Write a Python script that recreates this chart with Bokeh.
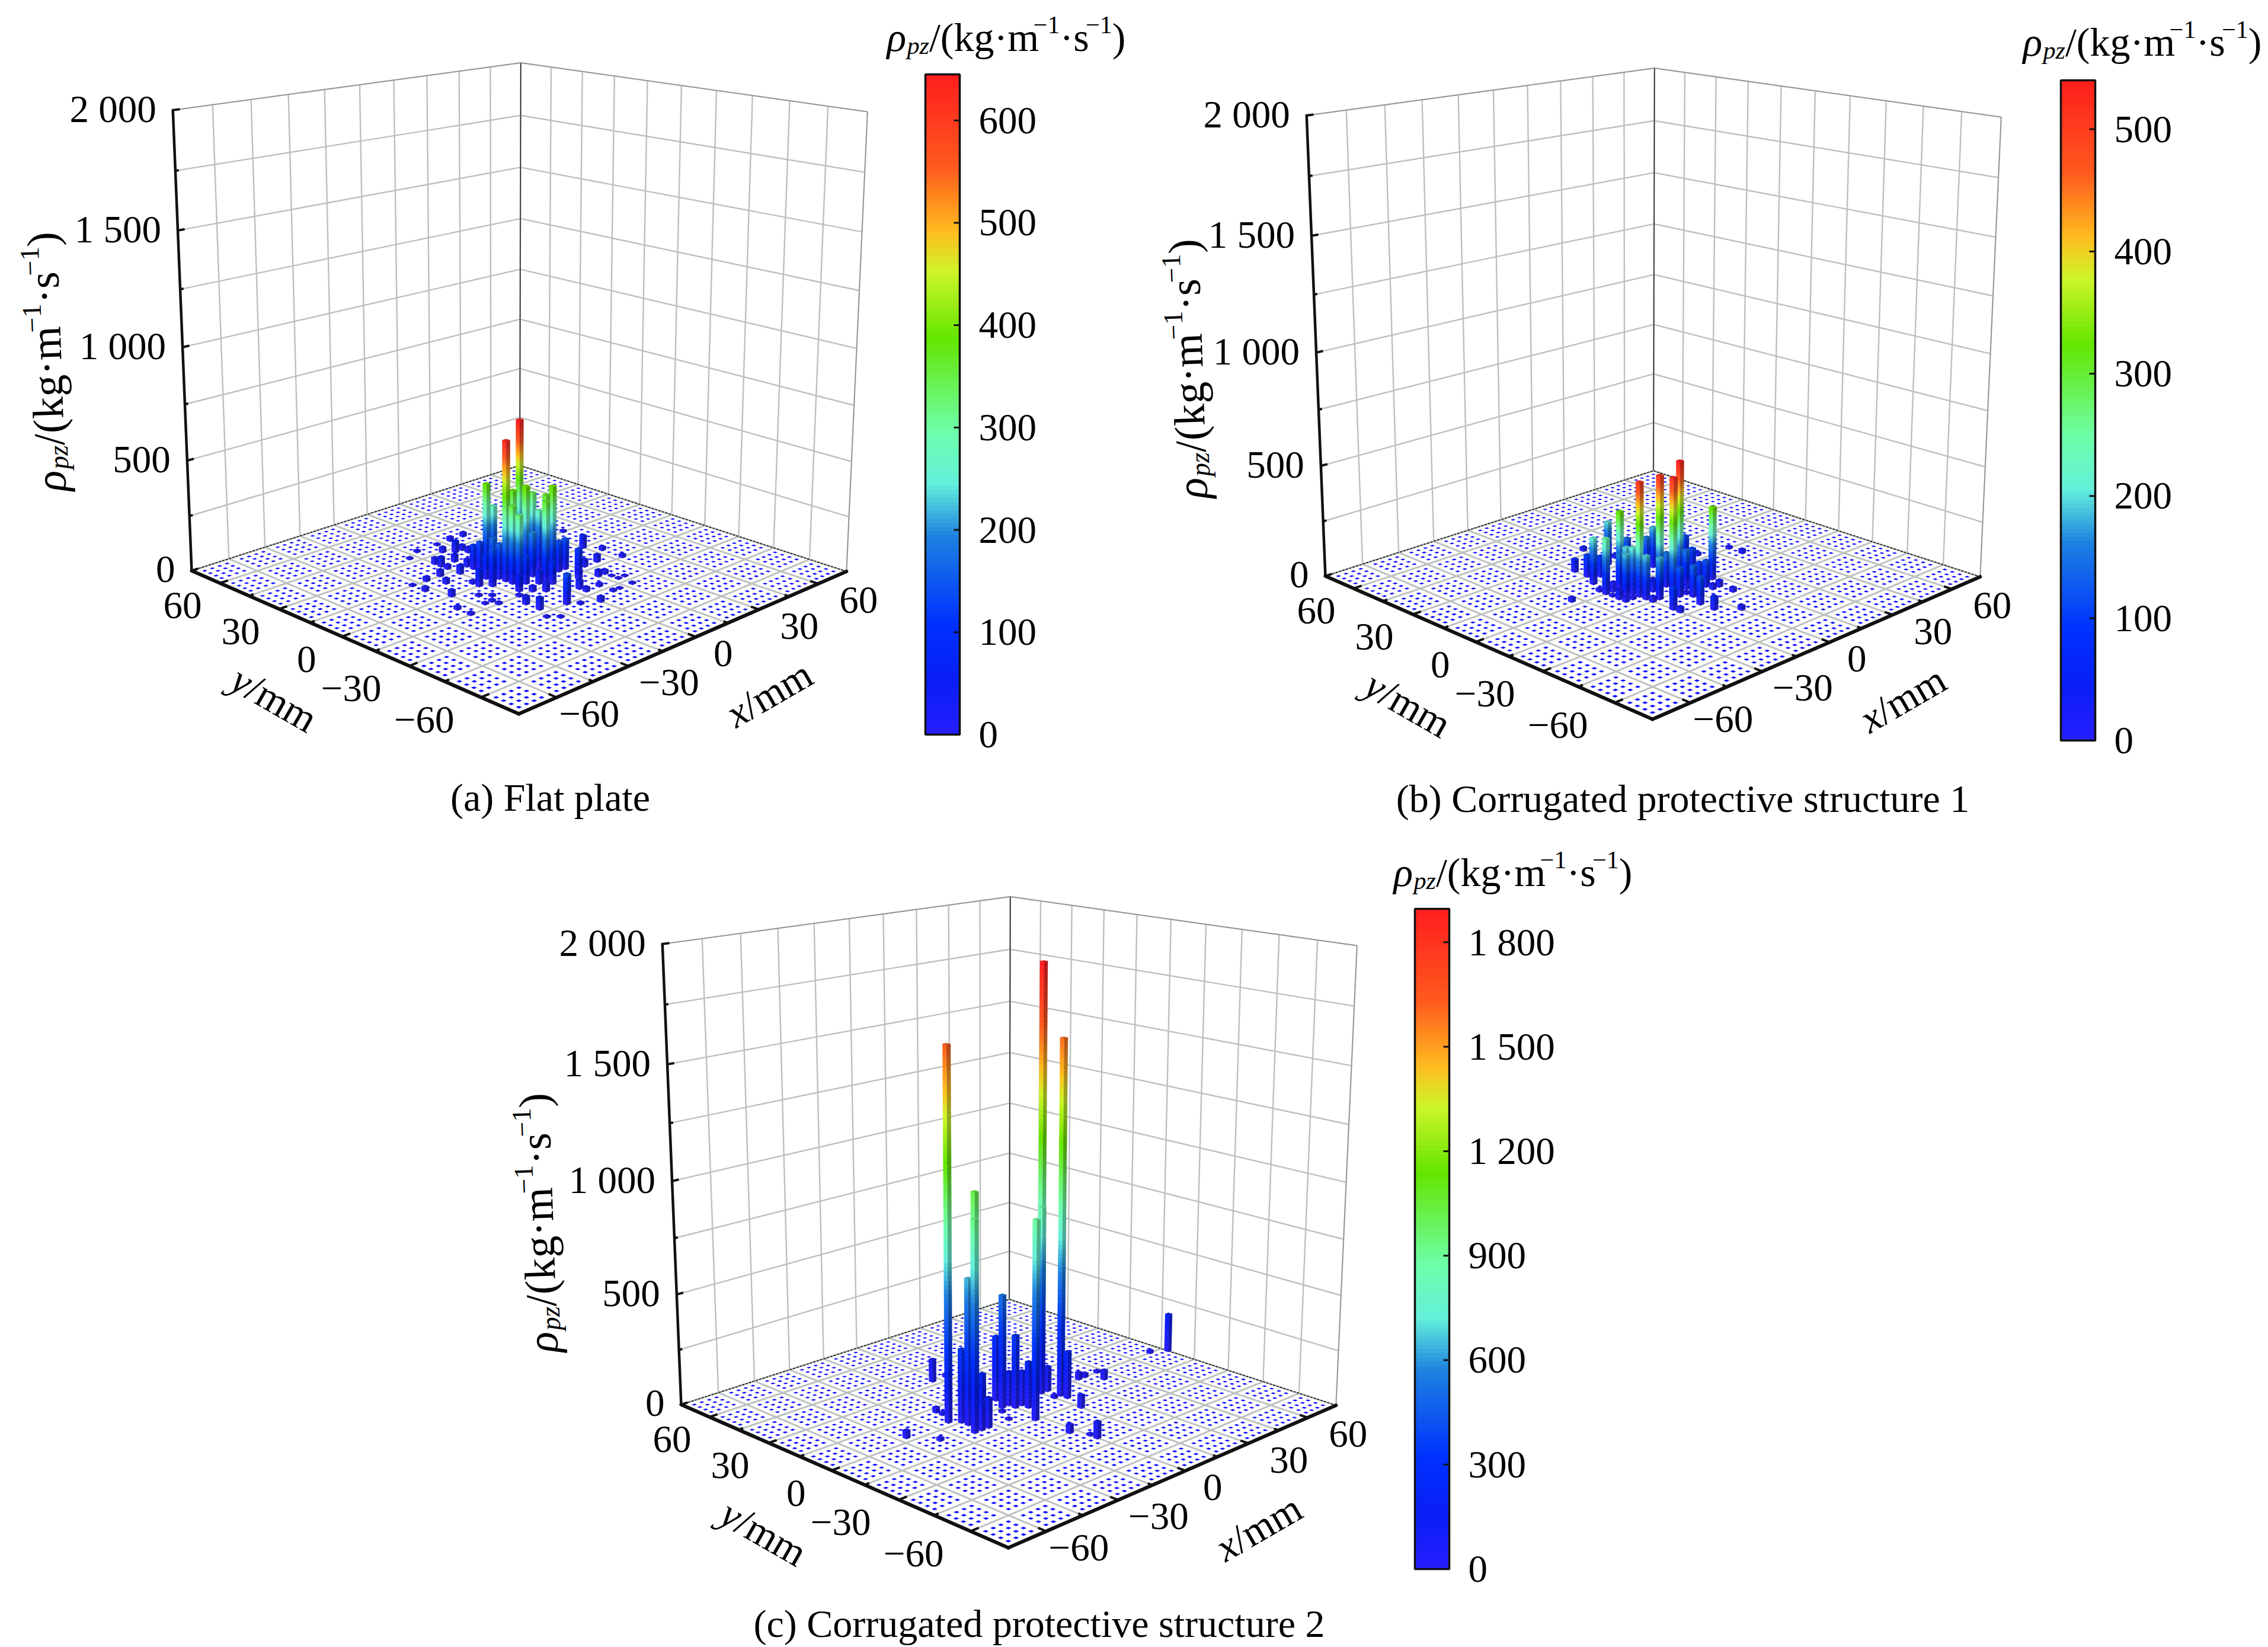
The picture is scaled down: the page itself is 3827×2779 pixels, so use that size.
import numpy as np
from bokeh.plotting import figure
from bokeh.models import ColumnDataSource, Range1d
from bokeh.embed import file_html
from bokeh.resources import INLINE
from bokeh.core.properties import value

# ---------- data ----------
a_x = [6,-9,-6,-3,-3,-9,-9,0,6,6,3,0,6,-9,-9,-18,-9,-9,-12,-15,-12,-6,-12,0,-3,-6,0,9,12,-9,12,30,3,9,18,24,15,18,33,33,0,3,-18,-9,-18,
       -3,-9,-6,3,9,-15,-15,-21,-15,-9,0,0,-15,-24,-27,-33,-30,-18,-36,-36,-21,-24,-24,-27,-24,-33,-12,-18,-3,-15,-15,36,-6,-21,-18,9,18,9,12,18,18,21]
a_y = [6,-3,9,9,0,-6,-9,-3,0,-3,-9,-12,-9,9,12,0,0,3,0,-3,3,-9,-12,-6,-12,-18,-15,-9,-9,-30,-15,0,-24,-18,-12,-12,-21,-21,-6,-15,-36,-27,-27,-15,-21,
       27,21,30,36,36,21,24,15,12,15,24,27,18,9,15,9,0,3,-9,-15,-9,-12,-15,-12,-6,15,36,33,36,-15,-18,15,-33,-33,-36,-33,-33,-27,-33,-24,-27,-27]
a_v = [650,630,390,280,380,350,320,400,340,270,370,360,400,135,110,75,160,175,150,45,110,125,70,200,60,40,100,140,140,135,115,60,40,40,35,35,30,20,18,15,25,20,55,25,25,
       55,35,25,20,20,45,30,30,40,35,25,25,20,25,20,20,30,15,15,12,10,10,10,8,10,8,10,8,8,10,15,10,10,8,8,10,8,15,6,6,6,6]

b_x = [3,-6,-6,-15,12,-12,-3,-21,-18,-15,-15,-12,0,-15,-18,-15,-15,-15,6,3,-12,-3,-15,-6,18,3,12,-3,6,6,6,-6,-6,24,9,6,9,0,36,36,-15,-21,-18,-21,-15,-9,-33,-21,0,3,-15,-18,-21,0,-3,-3]
b_y = [-9,-15,-9,-9,-15,3,18,0,9,15,21,12,12,-3,-6,0,-6,-12,6,6,-15,-9,-24,-18,3,-12,-6,-21,-9,-15,-18,-27,-33,3,-21,-21,-27,-39,-6,0,-27,-9,-9,-6,-15,-9,3,3,33,21,3,0,-3,-15,-18,-3]
b_v = [545,520,510,510,330,330,200,250,210,100,60,95,135,200,190,160,210,195,185,150,185,155,100,130,115,155,110,140,75,100,120,125,60,15,30,25,20,20,20,12,25,20,15,40,25,50,20,15,18,15,20,20,10,20,12,15]

c_x = [18,18,-24,-24,-21,-21,-3,15,-3,0,0,-21,-18,-3,-15,-21,-18,0,3,3,18,18,15,33,36,42,39,-3,0,0,69,75,-42,-21,-21,3,-36,15,-6,-9]
c_y = [3,-6,3,-9,-6,-3,-15,0,0,6,-3,0,-6,33,-3,-9,-9,0,-3,-6,0,-9,-18,0,0,0,-6,-30,-39,-36,0,-3,3,9,12,33,-6,-6,-3,-9]
c_v = [1900,1593,1630,930,1030,650,887,850,510,295,330,330,180,105,210,130,135,155,158,210,115,215,60,35,20,12,45,40,75,10,15,180,35,15,25,15,15,15,12,10]

z_ticks = [0, 500, 1000, 1500, 2000]
z_tick_labels = ["0", "500", "1 000", "1 500", "2 000"]
xy_ticks = [-60, -30, 0, 30, 60]
xy_tick_labels = ["\u221260", "\u221230", "0", "30", "60"]
cb_a_ticks = [0, 100, 200, 300, 400, 500, 600]
cb_a_labels = ["0", "100", "200", "300", "400", "500", "600"]
cb_b_ticks = [0, 100, 200, 300, 400, 500]
cb_b_labels = ["0", "100", "200", "300", "400", "500"]
cb_c_ticks = [0, 300, 600, 900, 1200, 1500, 1800]
cb_c_labels = ["0", "300", "600", "900", "1 200", "1 500", "1 800"]
captions = ["(a) Flat plate", "(b) Corrugated protective structure 1", "(c) Corrugated protective structure 2"]
cb_max = [645, 540, 1896]

# ---------- layout / style ----------
W, H = 3827, 2779
AX = 75.0
ZMAX = 2000.0
BAR_HALF = 0.85
DOT_HALF = 0.6
GREY = "#bcc1bf"
FONT = "Liberation Serif"
FS = 65
ANCHORS = [(-AX, AX, 0, 323, 962), (AX, AX, 0, 877, 786), (AX, -AX, 0, 1428, 962), (-AX, -AX, 0, 874, 1205),
           (-AX, AX, ZMAX, 292, 185), (AX, AX, ZMAX, 877, 105), (AX, -AX, ZMAX, 1464, 189)]
PANELS = [dict(dx=0, dy=0, cbx=1561, cby=(125, 1239), title=(1496, 62), ztitle=(78, 610), cap=(928, 1345)),
          dict(dx=1913, dy=9, cbx=3477, cby=(135, 1249), title=(3413, 70), ztitle=(2004, 622), cap=(2839, 1347)),
          dict(dx=826, dy=1407, cbx=2387, cby=(1533, 2647), title=(2351, 1471), ztitle=(908, 2063), cap=(1753, 2739))]
Y_LABEL_DX = [-26, -28, 10, 5, 7]
X_LABEL_DX = [-13, 0, -22, 0, 0]

STOPS = np.array([0, .08, .17, .30, .38, .46, .60, .70, .76, .86, 1.0])
RGB = np.array([(40, 30, 255), (10, 30, 245), (0, 50, 255), (30, 130, 225), (100, 240, 220), (110, 255, 170),
                (100, 230, 0), (205, 245, 40), (255, 190, 30), (255, 90, 30), (255, 30, 30)], float)


def cmap(t, k=1.0):
    c = np.array([np.interp(t, STOPS, RGB[:, i]) for i in range(3)]) * k
    c = np.clip(c, 0, 255).astype(int)
    return "#%02x%02x%02x" % tuple(c)


def fit_projection(dx, dy):
    A, b = [], []
    for x, y, z, X, Y in ANCHORS:
        X, Y = X + dx, Y + dy
        A.append([x, y, z, 1, 0, 0, 0, 0, -X * x, -X * y, -X * z]); b.append(X)
        A.append([0, 0, 0, 0, x, y, z, 1, -Y * x, -Y * y, -Y * z]); b.append(Y)
    A = np.array(A, float); b = np.array(b, float)
    s = np.abs(A).max(axis=0)
    sol = np.linalg.lstsq(A / s, b, rcond=None)[0] / s
    return np.append(sol, 1.0).reshape(3, 4)


def project(P, x, y, z):
    pts = np.column_stack([x, y, z, np.ones(len(x))])
    q = pts @ P.T
    return q[:, 0] / q[:, 2], q[:, 1] / q[:, 2]


def P1(P, x, y, z):
    X, Y = project(P, [x], [y], [z])
    return float(X[0]), float(Y[0])


CW = {'(': .333, ')': .333, '/': .278, 'k': .5, 'g': .5, '\u00b7': .25, 'm': .722, 's': .389, '\u2212': .564, '1': .5,
      '\u03c1': .5, 'p': .5, 'z': .389, 'y': .444, 'x': .444}


def tw(s, fs):
    return sum(CW.get(ch, .5) for ch in s) * fs


p = figure(width=W, height=H, output_backend="svg", toolbar_location=None,
           x_range=Range1d(0, W), y_range=Range1d(H, 0), min_border=0)
p.axis.visible = False
p.grid.visible = False
p.outline_line_color = None
p.background_fill_color = "white"


def put_text(X, Y, s, fs, angle=0.0, align="left", baseline="alphabetic", style="normal", color="#000000"):
    p.text([X], [Y], text=[s], text_font=value(FONT), text_font_size="%.1fpx" % fs, angle=angle, text_align=align,
           text_baseline=baseline, text_font_style=style, text_color=color)


def rich(cx, cy, pieces, fs, angle=0.0):
    total = sum(tw(t, fs * (.62 if k != "n" else 1)) for t, st, k in pieces)
    ca, sa = np.cos(angle), np.sin(angle)
    X = cx - ca * total / 2
    Y = cy + sa * total / 2
    for t, st, k in pieces:
        f = fs * (.62 if k != "n" else 1)
        off = {"n": 0, "b": -.2 * fs, "p": .3 * fs}[k]
        px, py = X - sa * off, Y - ca * off
        put_text(px, py, t, f, angle=angle, style=st)
        w = tw(t, f)
        X += ca * w
        Y -= sa * w


RHO = [("\u03c1", "italic", "n"), ("pz", "italic", "b"), ("/(kg\u00b7m", "normal", "n"), ("\u22121", "normal", "p"),
       ("\u00b7s", "normal", "n"), ("\u22121", "normal", "p"), (")", "normal", "n")]

datasets = [(a_x, a_y, a_v, cb_a_ticks, cb_a_labels), (b_x, b_y, b_v, cb_b_ticks, cb_b_labels),
            (c_x, c_y, c_v, cb_c_ticks, cb_c_labels)]

for idx, (panel, ds) in enumerate(zip(PANELS, datasets)):
    bx, by, bv, cticks, clabels = ds
    vmax = cb_max[idx]
    P = fit_projection(panel["dx"], panel["dy"])

    # walls
    xs, ys = [], []
    grid = np.arange(-AX, AX + 1, 15.0)
    for g in grid:
        for a, c in (((g, AX, 0), (g, AX, ZMAX)), ((AX, g, 0), (AX, g, ZMAX))):
            A = P1(P, *a); C = P1(P, *c)
            xs.append([A[0], C[0]]); ys.append([A[1], C[1]])
    for z in np.arange(0, ZMAX + 1, 250.0):
        for a, c in (((-AX, AX, z), (AX, AX, z)), ((AX, AX, z), (AX, -AX, z))):
            A = P1(P, *a); C = P1(P, *c)
            xs.append([A[0], C[0]]); ys.append([A[1], C[1]])
    p.multi_line(xs, ys, line_color=GREY, line_width=2.4)
    # thin frame
    for a, c, col, lw, dash in (((AX, AX, 0), (AX, AX, ZMAX), "#222222", 1.5, "solid"),
                                ((-AX, AX, ZMAX), (AX, AX, ZMAX), "#888888", 1.2, "solid"),
                                ((AX, AX, ZMAX), (AX, -AX, ZMAX), "#888888", 1.2, "solid"),
                                ((AX, -AX, 0), (AX, -AX, ZMAX), "#888888", 1.2, "solid")):
        A = P1(P, *a); C = P1(P, *c)
        p.line([A[0], C[0]], [A[1], C[1]], line_color=col, line_width=lw, line_dash=dash)

    # floor dots: a 3 mm lattice; those lying on a grid line do not show
    dots = np.arange(-72.0, 73, 3.0)
    dx_all, dy_all = [], []
    for gx in dots:
        for gy in dots:
            if int(gx) % 15 == 0 or int(gy) % 15 == 0:
                continue
            X, Y = project(P, [gx - DOT_HALF, gx + DOT_HALF, gx + DOT_HALF, gx - DOT_HALF],
                           [gy - DOT_HALF, gy - DOT_HALF, gy + DOT_HALF, gy + DOT_HALF], [0, 0, 0, 0])
            dx_all.append(X.tolist()); dy_all.append(Y.tolist())
    p.patches(dx_all, dy_all, fill_color="#1010ff", line_color=None)

    # floor grid on top of the dots
    xs, ys = [], []
    for g in grid:
        for a, c in (((g, -AX, 0), (g, AX, 0)), ((-AX, g, 0), (AX, g, 0))):
            A = P1(P, *a); C = P1(P, *c)
            xs.append([A[0], C[0]]); ys.append([A[1], C[1]])
    p.multi_line(xs, ys, line_color=GREY, line_width=3.0)
    for a, c in (((-AX, AX, 0), (AX, AX, 0)), ((AX, AX, 0), (AX, -AX, 0))):
        A = P1(P, *a); C = P1(P, *c)
        p.line([A[0], C[0]], [A[1], C[1]], line_color="#111111", line_width=1.5, line_dash="4 2")

    # bars, far to near
    order = np.argsort([-(x + y) for x, y in zip(bx, by)], kind="stable")
    pxs, pys, cols = [], [], []
    dv = vmax / 96.0
    h = BAR_HALF
    for i in order:
        x, y, v = bx[i], by[i], bv[i]
        edges = np.append(np.arange(0, v, dv), v)
        for z1, z2 in zip(edges[:-1], edges[1:]):
            t = (z1 + z2) / 2 / vmax
            X, Y = project(P, [x - h, x + h, x + h, x - h], [y - h] * 4, [z1, z1, z2, z2])
            pxs.append(X.tolist()); pys.append(Y.tolist()); cols.append(cmap(t, .7))
            X, Y = project(P, [x - h] * 4, [y - h, y + h, y + h, y - h], [z1, z1, z2, z2])
            pxs.append(X.tolist()); pys.append(Y.tolist()); cols.append(cmap(t, 1.0))
        X, Y = project(P, [x - h, x + h, x + h, x - h], [y - h, y - h, y + h, y + h], [v] * 4)
        pxs.append(X.tolist()); pys.append(Y.tolist()); cols.append(cmap(v / vmax, .85))
    p.patches(source=ColumnDataSource(dict(xs=pxs, ys=pys, c=cols)), xs="xs", ys="ys", fill_color="c", line_color="c",
              line_width=0.5)

    # axes
    for a, c, lw in (((-AX, AX, 0), (-AX, AX, ZMAX), 4.5), ((-AX, AX, 0), (-AX, -AX, 0), 6), ((-AX, -AX, 0), (AX, -AX, 0), 6)):
        A = P1(P, *a); C = P1(P, *c)
        p.line([A[0], C[0]], [A[1], C[1]], line_color="#111111", line_width=lw, line_cap="round")
    sx, sy = [], []
    for t in np.arange(-60, 61, 15.0):
        ln = 3.2 if int(t) % 30 == 0 else 1.8
        A = P1(P, -AX, t, 0); C = P1(P, -AX + ln, t, 0)
        sx.append([A[0], C[0]]); sy.append([A[1], C[1]])
        A = P1(P, t, -AX, 0); C = P1(P, t, -AX + ln, 0)
        sx.append([A[0], C[0]]); sy.append([A[1], C[1]])
    for z in np.arange(0, ZMAX + 1, 250.0):
        ln = 2.6 if int(z) % 500 == 0 else 1.3
        A = P1(P, -AX, AX, z); C = P1(P, -AX + ln, AX, z)
        sx.append([A[0], C[0]]); sy.append([A[1], C[1]])
    p.multi_line(sx, sy, line_color="#111111", line_width=4)

    # tick labels
    for z, lab in zip(z_ticks, z_tick_labels):
        X, Y = P1(P, -AX, AX, z)
        put_text(X - 28, Y - 2, lab, FS, align="right", baseline="middle")
    for j, (t, lab) in enumerate(zip(xy_ticks, xy_tick_labels)):
        X, Y = P1(P, -AX, t, 0)
        put_text(X - 70 + Y_LABEL_DX[j], Y + 38, lab, FS, align="center", baseline="middle")
        X, Y = P1(P, t, -AX, 0)
        put_text(X + 68 + X_LABEL_DX[j], Y + 28, lab, FS, align="center", baseline="middle")

    # axis titles
    d = panel
    rich(d["ztitle"][0], d["ztitle"][1], RHO, 74, angle=np.radians(92))
    rich(d["dx"] + 459, d["dy"] + 1177, [("y", "italic", "n"), ("/mm", "normal", "n")], 68, angle=np.radians(-30))
    rich(d["dx"] + 1294, d["dy"] + 1172, [("x", "italic", "n"), ("/mm", "normal", "n")], 68, angle=np.radians(30))
    put_text(d["cap"][0], d["cap"][1], captions[idx], 66, align="center", baseline="middle")

    # colour bar
    y0, y1 = d["cby"]
    cx0, cx1 = d["cbx"], d["cbx"] + 58
    vals = np.linspace(0, vmax, 160)
    scale = (y0 - y1) / vmax
    ytop = y1 + vals[1:] * scale
    ybot = y1 + vals[:-1] * scale
    p.quad(left=cx0, right=cx1, top=ytop - 0.6, bottom=ybot, fill_color=[cmap((a + b) / 2 / vmax) for a, b in zip(vals[:-1], vals[1:])],
           line_color=None)
    p.quad(left=[cx0], right=[cx1], top=[y0], bottom=[y1], fill_color=None, line_color="#111111", line_width=3.5)
    for t, lab in zip(cticks, clabels):
        Y = y1 + t * scale
        p.line([cx1 - 10, cx1], [Y, Y], line_color="#111111", line_width=3)
        put_text(cx1 + 32, Y, lab, FS, align="left", baseline="middle")
    cw = sum(tw(t, 68 * (.62 if k != "n" else 1)) for t, st, k in RHO)
    rich(d["title"][0] + cw / 2, d["title"][1], RHO, 68)

with open("out.html", "w") as f:
    f.write(file_html(p, INLINE))
